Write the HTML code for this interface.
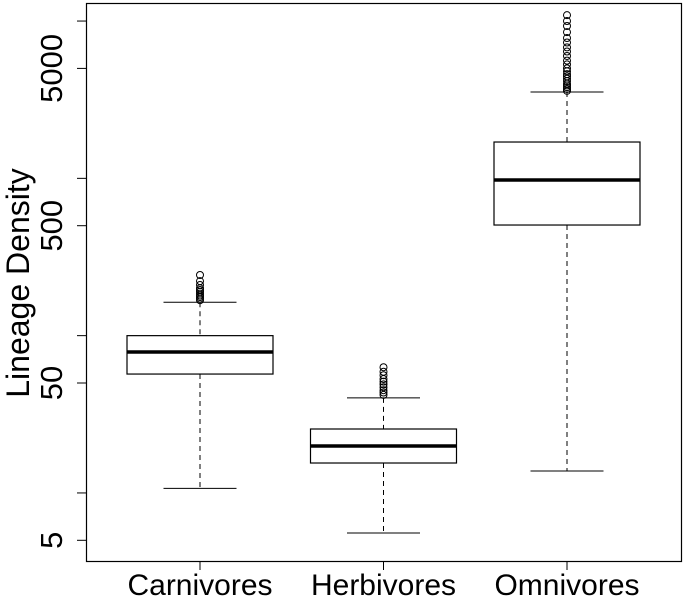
<!DOCTYPE html>
<html><head><meta charset="utf-8"><style>
body{margin:0;background:#fff}
svg{display:block;font-family:"Liberation Sans",Arial,sans-serif}
</style></head><body>
<svg id="chart" width="683" height="598" viewBox="0 0 683 598" xmlns="http://www.w3.org/2000/svg">
<rect x="86.5" y="3.5" width="595" height="558" fill="none" stroke="#000" stroke-width="1.2"/>
<g id="yaxis"></g>
<g id="boxes"></g>
<g id="xaxis"></g>
<text transform="translate(29,283) rotate(-90)" text-anchor="middle" font-size="32">Lineage Density</text>
</svg>
<script>
const categories=["Carnivores","Herbivores","Omnivores"];
const q1=[57,15.5,505];
const medians=[78.7,19.9,976];
const q3=[100,25.5,1702];
const whiskLow=[10.7,5.56,13.8];
const whiskHigh=[163,40.2,3540];
const outliers=[
 [168,172,176,180,185,190,195,200,210,222,243],
 [42,43.5,45,47,49,51,53,56,59,63],
 [3600,3700,3800,3900,4000,4150,4300,4450,4600,4800,5000,5300,5600,6000,6400,6800,7300,7800,8500,9300,10000,10900]
];
const tickValues=[5,10,50,100,500,1000,5000,10000];
const tickLabels=["5","","50","","500","","5000",""];

const NS="http://www.w3.org/2000/svg";
function y(v){return 383-157.3*Math.log10(v/50);}
function x(i){return 200+i*183.5;}
function mk(tag,attrs,parent){const e=document.createElementNS(NS,tag);for(const k in attrs)e.setAttribute(k,attrs[k]);parent.appendChild(e);return e;}
const ya=document.getElementById('yaxis'),bx=document.getElementById('boxes'),xa=document.getElementById('xaxis');
tickValues.forEach((v,i)=>{
  const t=mk('line',{x1:77,x2:86.5,y1:y(v),y2:y(v),stroke:'#000','stroke-width':1},ya);
  
  
  if(tickLabels[i]){
    const l=mk('text',{transform:`translate(62,${y(v)}) rotate(-90)`,'text-anchor':'middle','font-size':31},ya);
    l.textContent=tickLabels[i];
    
    
  }
});
categories.forEach((c,i)=>{
  const cx=x(i),hw=73,cw=36.5;
  const g=mk('g',{},bx);
  
  
  mk('line',{x1:cx,x2:cx,y1:y(whiskHigh[i]),y2:y(q3[i]),stroke:'#000','stroke-dasharray':'5,4'},g);
  mk('line',{x1:cx,x2:cx,y1:y(q1[i]),y2:y(whiskLow[i]),stroke:'#000','stroke-dasharray':'5,4'},g);
  mk('line',{x1:cx-cw,x2:cx+cw,y1:y(whiskHigh[i]),y2:y(whiskHigh[i]),stroke:'#000'},g);
  mk('line',{x1:cx-cw,x2:cx+cw,y1:y(whiskLow[i]),y2:y(whiskLow[i]),stroke:'#000'},g);
  mk('rect',{x:cx-hw,y:y(q3[i]),width:2*hw,height:y(q1[i])-y(q3[i]),fill:'#fff',stroke:'#000','stroke-width':1.2},g);
  mk('line',{x1:cx-hw,x2:cx+hw,y1:y(medians[i]),y2:y(medians[i]),stroke:'#000','stroke-width':3.5},g);
  outliers[i].forEach(v=>{
    const o=mk('circle',{cx:cx,cy:y(v),r:3.5,fill:'none',stroke:'#000','stroke-width':1},g);
    
    
  });
  const t=mk('line',{x1:cx,x2:cx,y1:561.5,y2:570,stroke:'#000'},xa);
  
  
  const l=mk('text',{x:cx,y:595,'text-anchor':'middle','font-size':30},xa);
  l.textContent=c;
  
  
});
</script>
</body></html>
